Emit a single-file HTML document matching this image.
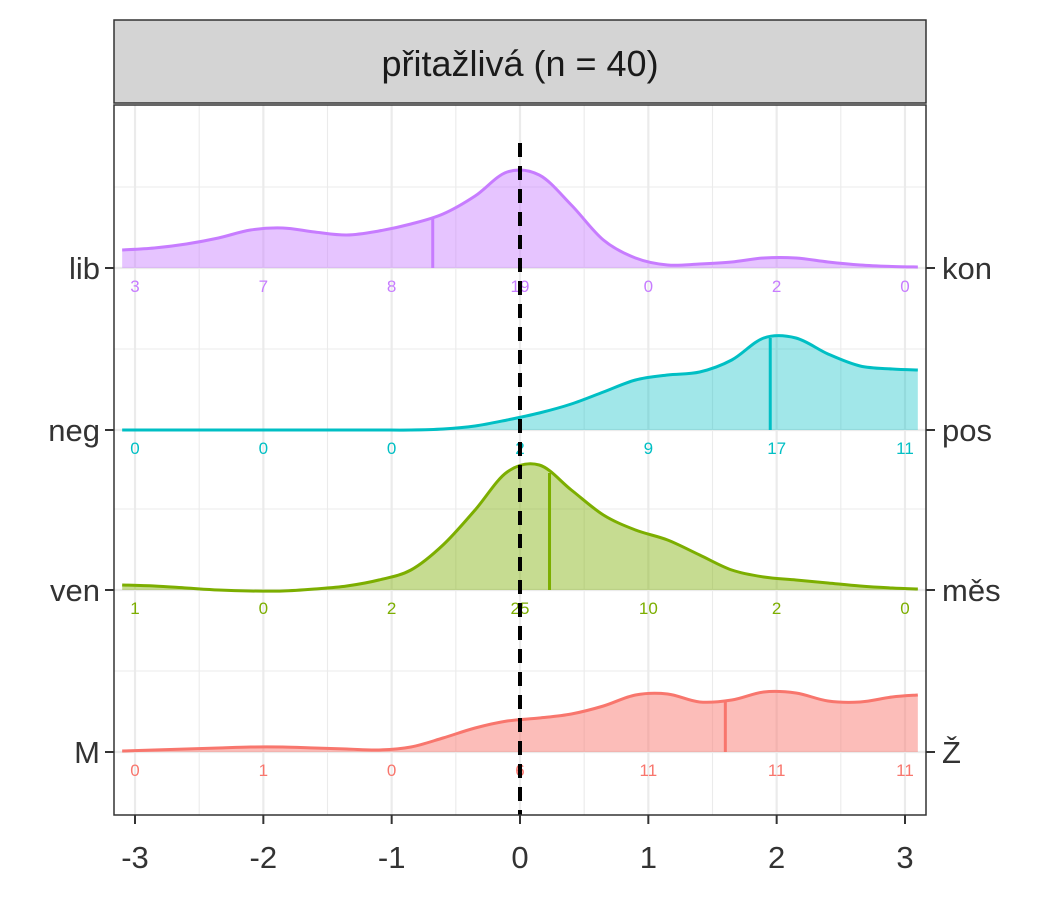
<!DOCTYPE html>
<html><head><meta charset="utf-8"><style>
body{margin:0;background:#fff}
svg{font-family:"Liberation Sans",Arial,sans-serif}
</style></head><body>
<svg id="chart" width="1050" height="900" xmlns="http://www.w3.org/2000/svg">
<rect width="1050" height="900" fill="#fff"/>
<g id="grid"></g><g id="series"></g><g id="axes"></g>
</svg>
<script>
const xs=[-3.1,-2.85,-2.6,-2.35,-2.1,-1.85,-1.6,-1.35,-1.1,-0.85,-0.6,-0.35,-0.1,0.15,0.4,0.65,0.9,1.15,1.4,1.65,1.9,2.15,2.4,2.65,2.9,3.1];
const dens_lib=[18,20,24,30,38,40,36,33,37,44,54,72,96,93,63,28,10,3,4,6,10,10,6,3,1.5,1];
const dens_pos=[0,0,0,0,0,0,0,0,0,0,1,4,10,17,26,38,50,55,58,70,92,92,76,64,61,60];
const dens_ven=[5,4,2,0,-1,-1,1,4,10,20,45,80,118,125,100,75,60,50,35,20,13,10,7,4,2,1];
const dens_M=[1,2,3,4,5,5,4,3,2,5,14,24,31,34,38,46,57,58,50,52,60,59,51,50,55,57];
const medians=[-0.68,1.95,0.23,1.6];
const counts_lib=[3,7,8,19,0,2,0];
const counts_pos=[0,0,0,2,9,17,11];
const counts_ven=[1,0,2,25,10,2,0];
const counts_M=[0,1,0,6,11,11,11];
const leftLabels=["lib","neg","ven","M"];
const rightLabels=["kon","pos","měs","Ž"];
const xTicks=[-3,-2,-1,0,1,2,3];

const NS="http://www.w3.org/2000/svg";
const X=v=>520+v*128.33;
const base=[268,430,590,752];
const H=d=>d;
const colors=["#C77CFF","#00BFC4","#7CAE00","#F8766D"];
const fills=["rgba(199,124,255,0.45)","rgba(0,191,196,0.37)","rgba(124,174,0,0.43)","rgba(248,118,109,0.48)"];
const dens=[dens_lib,dens_pos,dens_ven,dens_M];
const counts=[counts_lib,counts_pos,counts_ven,counts_M];
function mk(tag,attrs,parent){const e=document.createElementNS(NS,tag);for(const k in attrs)e.setAttribute(k,attrs[k]);parent.appendChild(e);return e;}
const grid=document.getElementById('grid'),ser=document.getElementById('series'),ax=document.getElementById('axes');
mk('rect',{x:114,y:105,width:812,height:710,fill:'#fff'},grid);
for(let v=-3;v<=3;v+=0.5){const l=mk('line',{x1:X(v),x2:X(v),y1:105,y2:815,stroke:'#ebebeb','stroke-width':Number.isInteger(v)?2.2:1.1},grid);
}
base.forEach((b,i)=>{const l=mk('line',{x1:114,x2:926,y1:b,y2:b,stroke:'#ebebeb','stroke-width':2.2},grid);

const m=mk('line',{x1:114,x2:926,y1:b-81,y2:b-81,stroke:'#ebebeb','stroke-width':1.1},grid);
});
function smooth(pts){let d=`M${pts[0][0]},${pts[0][1]}`;for(let i=0;i<pts.length-1;i++){const p0=pts[Math.max(0,i-1)],p1=pts[i],p2=pts[i+1],p3=pts[Math.min(pts.length-1,i+2)];
d+=` C${p1[0]+(p2[0]-p0[0])/6},${p1[1]+(p2[1]-p0[1])/6} ${p2[0]-(p3[0]-p1[0])/6},${p2[1]-(p3[1]-p1[1])/6} ${p2[0]},${p2[1]}`;}return d;}
function interp(arr,v){for(let i=0;i<xs.length-1;i++){if(v>=xs[i]&&v<=xs[i+1]){const t=(v-xs[i])/(xs[i+1]-xs[i]);return arr[i]+t*(arr[i+1]-arr[i]);}}return 0;}
const names=["lib-kon","neg-pos","ven-mes","M-Z"];
dens.forEach((arr,i)=>{const b=base[i];const pts=xs.map((x,j)=>[X(x),b-H(arr[j])]);const line=smooth(pts);
const a=mk('path',{d:line+` L${X(xs[xs.length-1])},${b} L${X(xs[0])},${b} Z`,fill:fills[i],stroke:'none'},ser);

const l=mk('path',{d:line,fill:'none',stroke:colors[i],'stroke-width':3},ser);

const m=medians[i];const ml=mk('line',{x1:X(m),x2:X(m),y1:b,y2:b-H(interp(arr,m)),stroke:colors[i],'stroke-width':3},ser);

counts[i].forEach((c,k)=>{const t=mk('text',{x:X(xTicks[k]),y:b+24,'text-anchor':'middle','font-size':17,fill:colors[i]},ser);t.textContent=c;
});
});
const dl=mk('line',{x1:X(0),x2:X(0),y1:143,y2:815,stroke:'#000','stroke-width':4,'stroke-dasharray':'14,9'},ser);

const fr=mk('rect',{x:114,y:105,width:812,height:710,fill:'none',stroke:'#333','stroke-width':1.5},ax);

const st=mk('rect',{x:114,y:20,width:812,height:83,fill:'#d4d4d4',stroke:'#333','stroke-width':1.5},ax);

const stt=mk('text',{x:520,y:76,'text-anchor':'middle','font-size':36,fill:'#1a1a1a'},ax);stt.textContent='přitažlivá (n = 40)';

base.forEach((b,i)=>{mk('line',{x1:105,x2:114,y1:b,y2:b,stroke:'#333','stroke-width':2},ax);mk('line',{x1:926,x2:935,y1:b,y2:b,stroke:'#333','stroke-width':2},ax);
const t=mk('text',{x:100,y:b+11,'text-anchor':'end','font-size':31,fill:'#333'},ax);t.textContent=leftLabels[i];

const r=mk('text',{x:942,y:b+11,'text-anchor':'start','font-size':31,fill:'#333'},ax);r.textContent=rightLabels[i];
});
xTicks.forEach(v=>{mk('line',{x1:X(v),x2:X(v),y1:815,y2:824,stroke:'#333','stroke-width':2},ax);
const t=mk('text',{x:X(v),y:868,'text-anchor':'middle','font-size':31,fill:'#333'},ax);t.textContent=v;
});
</script>
</body></html>
